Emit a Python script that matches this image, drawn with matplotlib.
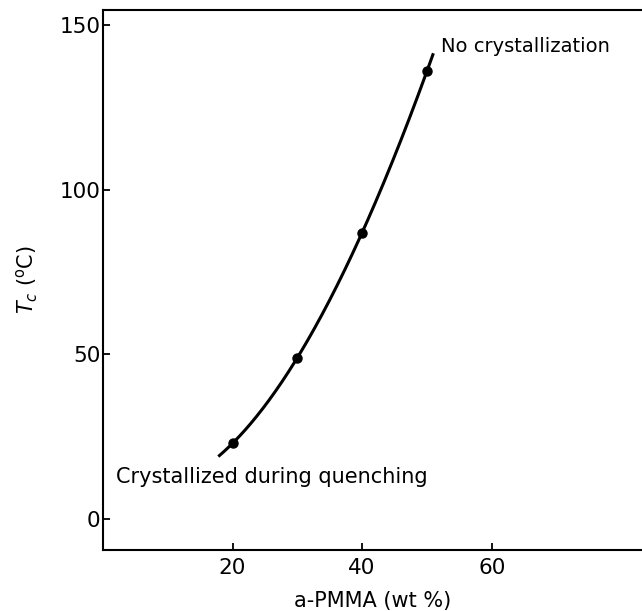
import numpy as np
import matplotlib as mpl

mpl.use("Agg")

import matplotlib.pyplot as plt

# Measured crystallization temperature vs a-PMMA content
pmma_wt = [20, 30, 40, 50]
tc_values = [23, 49, 87, 136]

# extent of the drawn smooth curve (wt %)
curve_start, curve_end = 17.8, 51.0

x_ticks = [20, 40, 60]
y_ticks = [0, 50, 100, 150]

mpl.rcParams.update(
    {
        "font.family": ["DejaVu Sans"],
        "mathtext.fontset": "dejavusans",
    }
)

fig = plt.figure(figsize=(6.42, 6.11), dpi=100)
ax = fig.add_axes([0.1604, 0.0998, 0.8396, 0.8838])

# smooth curve through the measured points
coef = np.polyfit(pmma_wt, tc_values, 3)
xs = np.linspace(curve_start, curve_end, 200)
ax.plot(xs, np.polyval(coef, xs), color="black", lw=2.2, solid_capstyle="butt")
ax.plot(pmma_wt, tc_values, "o", color="black", ms=6.5)

ax.set_xlim(0, 83.2)
ax.set_ylim(-9.4, 154.6)
ax.set_xticks(x_ticks)
ax.set_yticks(y_ticks)
ax.tick_params(direction="in", length=5, width=1.3, labelsize=15.5)
ax.tick_params(axis="x", pad=6)
ax.tick_params(axis="y", pad=2)

for side in ("left", "bottom", "top"):
    ax.spines[side].set_linewidth(1.5)
ax.spines["right"].set_visible(False)

ax.set_xlabel("a-PMMA (wt %)", fontsize=15, labelpad=9)
ax.set_ylabel(r"$T_c$ ($^{\rm o}$C)", fontsize=15, labelpad=14)

ax.text(52.2, 143.5, "No crystallization", fontsize=14, ha="left", va="center")
ax.text(2.0, 12.7, "Crystallized during quenching", fontsize=15, ha="left", va="center")

fig.savefig("out.png", dpi=100, facecolor="white")
